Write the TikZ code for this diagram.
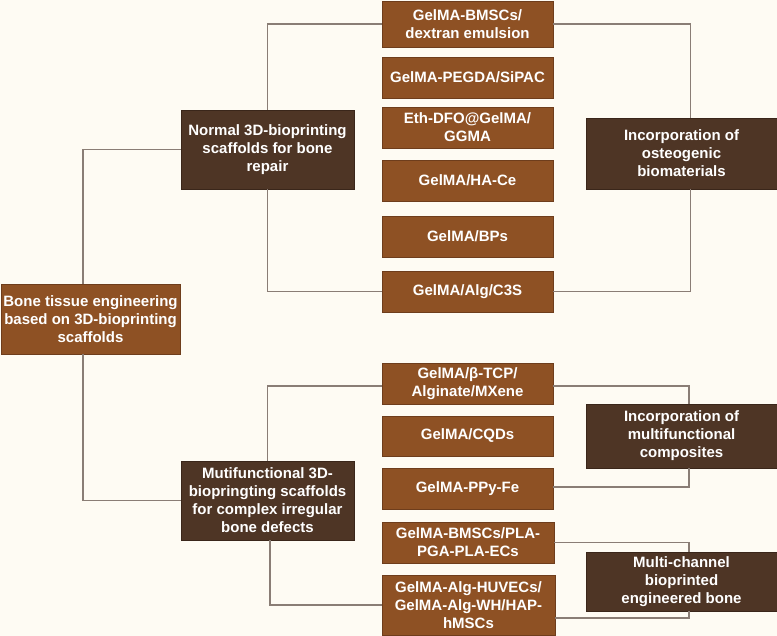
\documentclass[tikz,border=0pt]{standalone}
\usepackage{fontspec}
\setmainfont{Liberation Sans}
\definecolor{bgc}{HTML}{FEFBF3}
\definecolor{lightb}{HTML}{8E5124}
\definecolor{lightbd}{HTML}{6E3D1C}
\definecolor{darkb}{HTML}{4E3525}
\definecolor{darkbd}{HTML}{3A261A}
\definecolor{linec}{HTML}{8A7D75}
\begin{document}
\begin{tikzpicture}[x=1pt,y=-1pt,
  every node/.style={inner sep=0pt, outer sep=0pt, text=white, font=\bfseries\fontsize{15}{18}\selectfont, align=center},
  lbox/.style={draw=lightbd, fill=lightb, line width=0.9pt},
  dbox/.style={draw=darkbd, fill=darkb, line width=0.9pt},
  conn/.style={draw=linec, line width=1.2pt}]
\fill[bgc] (0,0) rectangle (777,636);
\useasboundingbox (0,0) rectangle (777,636);
% main boxes
\node[lbox, minimum width=179pt, minimum height=70pt] (root) at (90.5,319) {Bone tissue engineering\\based on 3D-bioprinting\\scaffolds};
\node[dbox, minimum width=173pt, minimum height=79pt] (normal) at (267.5,149.5) {Normal 3D-bioprinting\\scaffolds for bone\\repair};
\node[dbox, minimum width=173pt, minimum height=79pt] (muti) at (267.5,500.5) {Mutifunctional 3D-\\biopringting scaffolds\\for complex irregular\\bone defects};
% upper group
\node[lbox, minimum width=171pt, minimum height=46pt] (b1) at (467.5,24) {GelMA-BMSCs/\\dextran emulsion};
\node[lbox, minimum width=171pt, minimum height=41pt] (b2) at (467.5,77.5) {GelMA-PEGDA/SiPAC};
\node[lbox, minimum width=171pt, minimum height=41pt] (b3) at (467.5,127.5) {Eth-DFO@GelMA/\\GGMA};
\node[lbox, minimum width=171pt, minimum height=41pt] (b4) at (467.5,180.5) {GelMA/HA-Ce};
\node[lbox, minimum width=171pt, minimum height=41pt] (b5) at (467.5,236.5) {GelMA/BPs};
\node[lbox, minimum width=171pt, minimum height=41pt] (b6) at (467.5,291.5) {GelMA/Alg/C3S};
\node[dbox, minimum width=191pt, minimum height=71pt] (osteo) at (681.5,153.5) {Incorporation of\\osteogenic\\biomaterials};
% lower group
\node[lbox, minimum width=171pt, minimum height=41pt] (b7) at (467.5,383.5) {GelMA/β-TCP/\\Alginate/MXene};
\node[lbox, minimum width=171pt, minimum height=40pt] (b8) at (467.5,436) {GelMA/CQDs};
\node[lbox, minimum width=171pt, minimum height=41pt] (b9) at (467.5,488.5) {GelMA-PPy-Fe};
\node[lbox, minimum width=172pt, minimum height=41pt] (b10) at (468,542.5) {GelMA-BMSCs/PLA-\\PGA-PLA-ECs};
\node[lbox, minimum width=173pt, minimum height=60pt] (b11) at (468.5,605) {GelMA-Alg-HUVECs/\\GelMA-Alg-WH/HAP-\\hMSCs};
\node[dbox, minimum width=191pt, minimum height=64pt] (comp) at (681.5,436) {Incorporation of\\multifunctional\\composites};
\node[dbox, minimum width=191pt, minimum height=59pt] (mc) at (681.5,581.5) {Multi-channel\\bioprinted\\engineered bone};
% connectors
\draw[conn] ([xshift=-7.5pt]root.north) |- (normal.west);
\draw[conn] ([xshift=-7.5pt]root.south) |- (muti.west);
\draw[conn] (normal.north) |- (b1.west);
\draw[conn] (normal.south) |- (b6.west);
\draw[conn] (b1.east) -| ([xshift=9pt]osteo.north);
\draw[conn] (b6.east) -| ([xshift=9pt]osteo.south);
\draw[conn] (muti.north) |- ([yshift=-2.5pt]b7.west);
\draw[conn] ([xshift=2.5pt]muti.south) |- (b11.west);
\draw[conn] ([yshift=-2.5pt]b7.east) -| ([xshift=7.5pt]comp.north);
\draw[conn] ([yshift=1.5pt]b9.east) -| ([xshift=7.5pt]comp.south);
\draw[conn] (b10.east) -| ([xshift=7.5pt]mc.north);
\draw[conn] ([yshift=-13pt]b11.east) -| ([xshift=7.5pt]mc.south);
\end{tikzpicture}
\end{document}
